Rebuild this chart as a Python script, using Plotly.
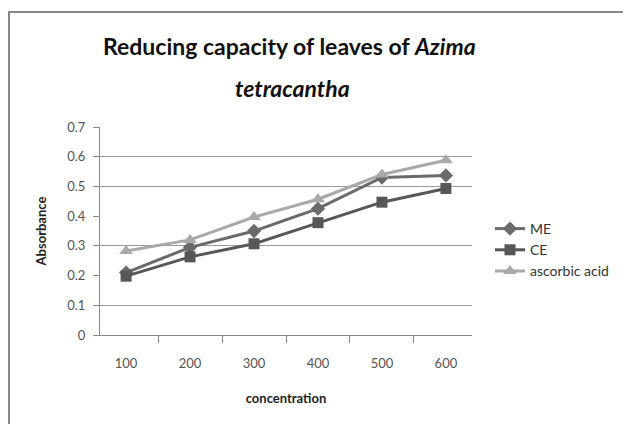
import plotly.graph_objects as go

concentration = ["100", "200", "300", "400", "500", "600"]
me_values = [0.21, 0.295, 0.35, 0.425, 0.53, 0.537]
ce_values = [0.198, 0.263, 0.307, 0.378, 0.447, 0.493]
aa_values = [0.283, 0.32, 0.397, 0.457, 0.54, 0.588]
y_ticks = [0, 0.1, 0.2, 0.3, 0.4, 0.5, 0.6, 0.7]
grid_ticks = [0.1, 0.3, 0.5, 0.6, 0.7]

FONT = "Lato"
OFF = 8  # default page body margin
W, H = 631 - OFF, 424 - OFF
# plot area in reference (page) pixel coords
PX0, PX1, PY0, PY1 = 100, 472, 127, 335
L, R, T, B = PX0 - OFF, W - (PX1 - OFF), PY0 - OFF, H - (PY1 - OFF)
pw, ph = PX1 - PX0, PY1 - PY0

def px_x(x):
    return (x - PX0) / pw

def px_y(y):
    return (PY1 - y) / ph

fig = go.Figure()
fig.add_trace(go.Scatter(x=concentration, y=me_values, name="ME", mode="lines+markers",
                         line=dict(color="#6a6a6a", width=3),
                         marker=dict(symbol="diamond", size=11, color="#6a6a6a")))
fig.add_trace(go.Scatter(x=concentration, y=ce_values, name="CE", mode="lines+markers",
                         line=dict(color="#575757", width=3),
                         marker=dict(symbol="square", size=11, color="#575757")))
fig.add_trace(go.Scatter(x=concentration, y=aa_values, name="ascorbic acid", mode="lines+markers",
                         line=dict(color="#a9a9a9", width=3),
                         marker=dict(symbol="triangle-up", size=12, color="#a9a9a9")))
# invisible trace on overlay axis for gridlines
fig.add_trace(go.Scatter(x=concentration, y=[None]*6, yaxis="y2", showlegend=False, hoverinfo="skip"))

fig.update_layout(
    width=W, height=H,
    margin=dict(l=L, r=R, t=T, b=B, autoexpand=False),
    paper_bgcolor="white", plot_bgcolor="white",
    font=dict(family=FONT, color="#444", size=12),
    showlegend=True,
    legend=dict(x=px_x(490), y=px_y(250), xanchor="left", yanchor="middle",
                font=dict(size=14, color="#333"), itemwidth=30, tracegroupgap=4,
                bgcolor="rgba(0,0,0,0)"),
    xaxis=dict(type="category", tickson="boundaries", ticks="outside", ticklen=7,
               tickcolor="#888", showline=True, linecolor="#888", linewidth=1,
               showgrid=False, tickfont=dict(size=13, color="#555"), ticklabelstandoff=16,
               automargin=False,
               title=dict(text="<b>concentration</b>", font=dict(size=13, color="#222"), standoff=24)),
    yaxis=dict(range=[0, 0.7], tickvals=y_ticks, ticktext=[f"{v:g}" for v in y_ticks],
               ticks="outside", ticklen=6, tickcolor="#888", showline=True,
               linecolor="#888", linewidth=1, showgrid=False, zeroline=False,
               tickfont=dict(size=13, color="#555"), ticklabelstandoff=5, automargin=False,
               title=dict(text="<b>Absorbance</b>", font=dict(size=13, color="#222"), standoff=17)),
    yaxis2=dict(range=[0, 0.7], overlaying="y", tickvals=grid_ticks, showticklabels=False,
                showgrid=True, gridcolor="#999", gridwidth=1, zeroline=False, showline=False),
)

fig.add_annotation(text="<b>Reducing capacity of leaves of <i>Azima</i></b>", xref="paper", yref="paper",
                   x=px_x(289), y=px_y(46), xanchor="center", yanchor="middle", showarrow=False,
                   font=dict(family=FONT, size=23, color="#111"))
fig.add_annotation(text="<b><i>tetracantha</i></b>", xref="paper", yref="paper",
                   x=px_x(292), y=px_y(88), xanchor="center", yanchor="middle", showarrow=False,
                   font=dict(family=FONT, size=23, color="#111"))

fig.add_shape(type="rect", xref="paper", yref="paper",
              x0=px_x(9), x1=px_x(640), y0=px_y(440), y1=px_y(12),
              line=dict(color="#888", width=2), fillcolor="rgba(0,0,0,0)", layer="below")

fig.write_html("out.html")
